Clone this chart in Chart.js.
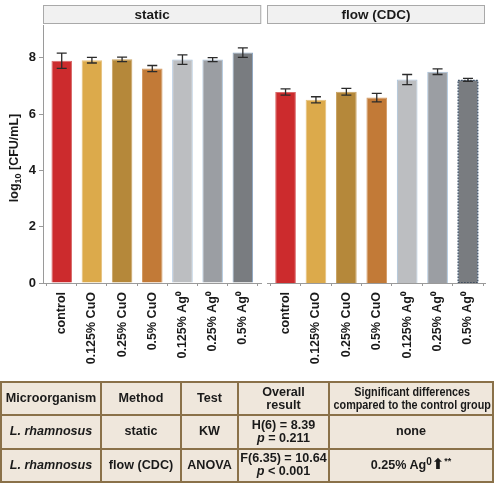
<!DOCTYPE html>
<html><head><meta charset="utf-8">
<script src="https://cdn.jsdelivr.net/npm/chart.js@4.4.1/dist/chart.umd.min.js"></script>
<style>
html,body{margin:0;padding:0;background:#fff;width:496px;height:485px;overflow:hidden;font-family:"Liberation Sans",Arial,sans-serif;}
#c1{position:absolute;left:0;top:0;width:264px;height:375px;}
#c2{position:absolute;left:262px;top:0;width:234px;height:375px;}
table{position:absolute;left:0px;top:381px;width:492px;table-layout:fixed;border-collapse:collapse;background:#efe7dc;color:#1a1a1a;font-weight:bold;font-size:12.6px;}
tr{height:33.3px;}
td{border:2px solid #8a7149;text-align:center;padding:0;line-height:13px;white-space:nowrap;overflow:hidden;}
.cond{display:inline-block;transform-origin:center;font-size:12.4px;line-height:13px;}
i{font-style:italic;}
.arrow{font-family:"DejaVu Sans";font-size:15px;font-weight:bold;line-height:0;}
</style></head>
<body>
<canvas id="c1"></canvas>
<canvas id="c2"></canvas>
<table>
<colgroup><col style="width:100px"><col style="width:80px"><col style="width:57px"><col style="width:91px"><col style="width:164px"></colgroup>
<tr><td>Microorganism</td><td>Method</td><td>Test</td><td>Overall<br>result</td><td><div style="width:164px;overflow:visible;display:flex;justify-content:center"><span class="cond" id="cond">Significant differences<br>compared to the control group</span></div></td></tr>
<tr><td><i>L. rhamnosus</i></td><td>static</td><td>KW</td><td>H(6) = 8.39<br><i>p</i> = 0.211</td><td>none</td></tr>
<tr><td><i>L. rhamnosus</i></td><td>flow (CDC)</td><td>ANOVA</td><td>F(6.35) = 10.64<br><i>p</i> &lt; 0.001</td><td>0.25% Ag<sup style="font-size:10px;vertical-align:4px;line-height:0">0</sup><span class="arrow">&#x2B06;</span><sup style="font-size:9px;line-height:0">**</sup></td></tr>
</table>
<script>
const categories = ["control","0.125% CuO","0.25% CuO","0.5% CuO","0.125% Ag\u2070","0.25% Ag\u2070","0.5% Ag\u2070"];
const staticValues = [7.90,7.92,7.95,7.62,7.94,7.94,8.19];
const staticErrors = [0.27,0.10,0.08,0.11,0.17,0.07,0.17];
const flowValues = [6.79,6.51,6.80,6.59,7.23,7.51,7.22];
const flowErrors = [0.11,0.11,0.12,0.15,0.18,0.10,0.05];
const yTicks = [0,2,4,6,8];
const panelTitles = ["static","flow (CDC)"];

const colors = ["#cc2b2d","#dcaa4b","#b5883a","#c27a37","#bcbec1","#9b9ea3","#797c80"];
const borders = ["#d96a6a","#e6c07a","#c9a363","#d39a62","#a9c2db","#a9c2db","#8aa6c4"];
const FONT = "'Liberation Sans', Arial, sans-serif";

(function(){
  const s=document.getElementById('cond');
  const w=s.offsetWidth;
  s.style.transform='scaleX('+(157/w)+')';
  s.style.flex='0 0 auto';
})();

function stripPlugin(title){
  return {id:'strip',beforeDraw(chart){
    const a=chart.chartArea, ctx=chart.ctx;
    ctx.save();
    ctx.fillStyle='#f1f1f1'; ctx.strokeStyle='#a9a9a9'; ctx.lineWidth=1;
    ctx.fillRect(a.left,5,a.right-a.left,19);
    ctx.strokeRect(a.left+0.5,5.5,a.right-a.left-1,18);
    ctx.fillStyle='#1a1a1a'; ctx.font='bold 13.5px '+FONT; ctx.textAlign='center'; ctx.textBaseline='middle';
    ctx.fillText(title,(a.left+a.right)/2,15);
    ctx.restore();
  }};
}
const yTitlePlugin = {id:'ytitle',afterDraw(chart){
  const ctx=chart.ctx;
  ctx.save();
  ctx.translate(18,158); ctx.rotate(-Math.PI/2);
  ctx.fillStyle='#1a1a1a'; ctx.textBaseline='alphabetic';
  const f1='bold 12.5px '+FONT, f2='bold 9px '+FONT;
  ctx.font=f1; const w1=ctx.measureText('log').width, w3=ctx.measureText(' [CFU/mL]').width;
  ctx.font=f2; const w2=ctx.measureText('10').width;
  let x=-(w1+w2+w3)/2;
  ctx.font=f1; ctx.textAlign='left'; ctx.fillText('log',x,0); x+=w1;
  ctx.font=f2; ctx.fillText('10',x,3); x+=w2;
  ctx.font=f1; ctx.fillText(' [CFU/mL]',x,0);
  ctx.restore();
}};
function errPlugin(vals,errs,dotted){
  return {id:'err',afterDatasetsDraw(chart){
    const ctx=chart.ctx, xs=chart.scales.x, ys=chart.scales.y;
    const meta=chart.getDatasetMeta(0);
    ctx.save();
    if(dotted){
      const el=meta.data[6];
      ctx.strokeStyle='#3c4a5a'; ctx.lineWidth=1.2; ctx.setLineDash([1.5,1.5]);
      ctx.strokeRect(el.x-el.width/2+0.5,el.y+0.5,el.width-1,el.base-el.y-1);
      ctx.setLineDash([]);
    }
    ctx.strokeStyle='#2b2b2b'; ctx.lineWidth=1.3;
    vals.forEach((v,i)=>{
      const x=xs.getPixelForValue(i), y1=ys.getPixelForValue(v+errs[i]), y2=ys.getPixelForValue(v-errs[i]);
      ctx.beginPath();
      ctx.moveTo(x,y1);ctx.lineTo(x,y2);
      ctx.moveTo(x-5,y1);ctx.lineTo(x+5,y1);
      ctx.moveTo(x-5,y2);ctx.lineTo(x+5,y2);
      ctx.stroke();
    });
    ctx.restore();
  }};
}
function makeChart(id,vals,errs,showY,xmin,xmax,pad,title,dotted){
  const plugins=[stripPlugin(title),errPlugin(vals,errs,dotted)];
  if(showY) plugins.push(yTitlePlugin);
  return new Chart(document.getElementById(id),{
    type:'bar',
    data:{datasets:[{data:vals.map((v,i)=>({x:i,y:v})),backgroundColor:colors,borderColor:borders,borderWidth:1,
      barPercentage:0.68,categoryPercentage:1}]},
    options:{
      responsive:false,animation:false,devicePixelRatio:1,
      layout:{padding:pad},
      plugins:{legend:{display:false},tooltip:{enabled:false}},
      scales:{
        x:{type:'linear',min:xmin,max:xmax,offset:false,
          grid:{display:true,drawOnChartArea:false,drawTicks:true,tickLength:3,color:'#9a9a9a'},
          border:{display:true,color:'#9a9a9a',width:1},
          ticks:{stepSize:1,includeBounds:false,autoSkip:false,minRotation:90,maxRotation:90,padding:6,color:'#1a1a1a',
            font:{family:FONT,size:12.5,weight:'bold'},callback:(v)=>categories[v]},
          afterFit(s){s.height=92;}
        },
        y:{display:showY,min:0,max:9.17,
          grid:{display:true,drawOnChartArea:false,drawTicks:true,tickLength:4,color:'#9a9a9a'},
          border:{display:true,color:'#9a9a9a',width:1},
          afterBuildTicks(s){s.ticks=yTicks.map(v=>({value:v}));},
          ticks:{padding:3,color:'#1a1a1a',font:{family:FONT,size:13,weight:'bold'}},
          title:{display:false},
          afterFit(s){s.width=showY?43:0;}
        }
      }
    },
    plugins:plugins
  });
}
document.getElementById('c1').width=264;document.getElementById('c1').height=375;
document.getElementById('c2').width=234;document.getElementById('c2').height=375;
makeChart('c1',staticValues,staticErrors,true,-0.62,6.61,{top:25,left:0,right:2,bottom:0},panelTitles[0],false);
makeChart('c2',flowValues,flowErrors,false,-0.61,6.56,{top:25,left:5,right:11,bottom:0},panelTitles[1],true);
</script>
</body></html>
